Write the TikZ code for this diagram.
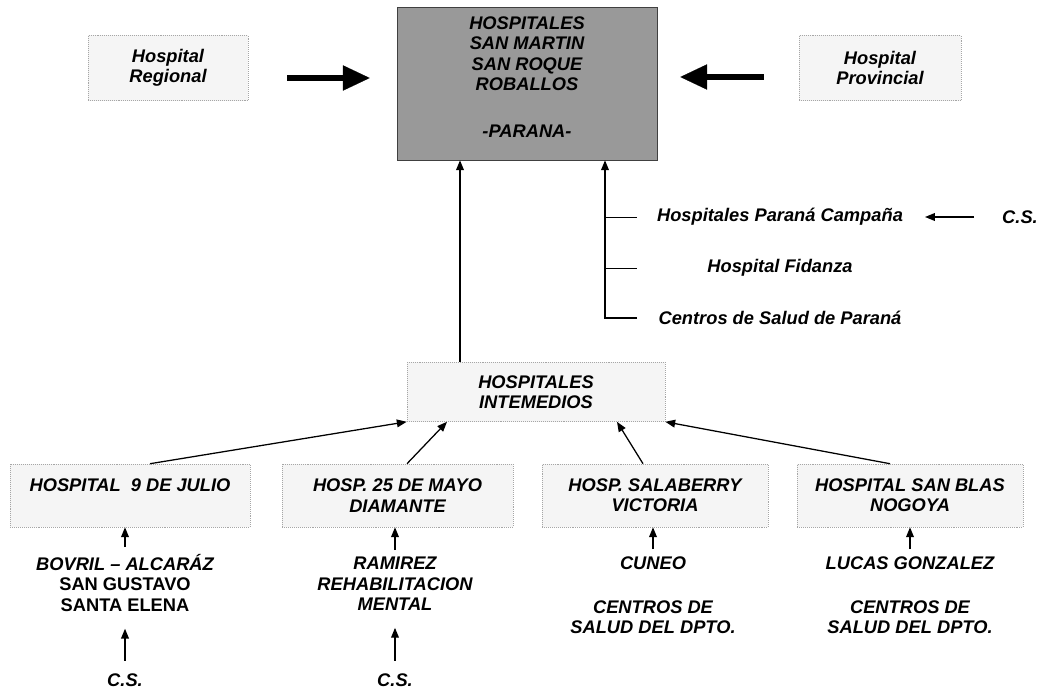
\documentclass[tikz,border=0pt]{standalone}
\usepackage{fontspec}
\setmainfont{Liberation Sans}
\usetikzlibrary{arrows.meta}
\tikzset{
  lbl/.style={font=\fontsize{13}{14.5}\selectfont\bfseries\itshape, align=center, inner sep=2pt},
  mainbox/.style={draw=black!75, fill=black!40, minimum width=6.5cm, minimum height=3.825cm},
  litebox/.style={lbl, draw=black!35, densely dotted, fill=black!4, minimum height=1.575cm},
  arr/.style={line width=0.9pt, -{Triangle[length=7pt,width=5.5pt]}},
  bigarrow/.style={line width=3.6pt, -{Triangle[length=19pt,width=18pt,line width=0.1pt]}}
}
\begin{document}
\begin{tikzpicture}[x=0.025cm, y=-0.025cm]
\useasboundingbox (0,0) rectangle (1043,695);
% top row
\node[mainbox] (main) at (527,83.5) {};
\node[lbl] (maintxt) at (527,77) {HOSPITALES\\SAN MARTIN\\SAN ROQUE\\ROBALLOS\\[19pt]-PARANA-};
\node[litebox, minimum width=4cm, minimum height=1.625cm] (reg) at (168,68) {Hospital\\Regional};
\node[litebox, minimum width=4.05cm, minimum height=1.625cm] (prov) at (880,68) {Hospital\\Provincial};
\draw[bigarrow, shorten <=0.975cm, shorten >=0.675cm] (reg.east |- 0,78) -- (main.west |- 0,78);
\draw[bigarrow, shorten <=0.875cm, shorten >=0.575cm] (prov.west |- 0,77) -- (main.east |- 0,77);

% Parana branch
\node[lbl] (camp) at (780,217) {Hospitales Paraná Campaña};
\node[lbl] (fid) at (780,268) {Hospital Fidanza};
\node[lbl] (cen) at (780,318) {Centros de Salud de Paraná};
\node[lbl] (cs0) at (1020,217) {C.S.};
\draw[arr] (637,0 |- cen) -| (main.south -| 605,0);
\draw (605,0 |- camp) -- (637,0 |- camp);
\draw (605,0 |- fid) -- (637,0 |- fid);
\draw[arr, shorten <=0.625cm, shorten >=0.475cm] (cs0.west) -- (camp.east);

% intermediate level
\node[litebox, minimum width=6.45cm, minimum height=1.475cm] (inter) at (536,392) {HOSPITALES\\INTEMEDIOS};
\draw[arr] (inter.north -| 460,0) -- (main.south -| 460,0);

\node[litebox, minimum width=6cm] (b1) at (130,495.5) {HOSPITAL\ \ 9 DE JULIO\\\mbox{}};
\node[litebox, minimum width=5.775cm] (b2) at (397.5,495.5) {HOSP. 25 DE MAYO\\DIAMANTE};
\node[litebox, minimum width=5.65cm] (b3) at (655,495.5) {HOSP. SALABERRY\\VICTORIA};
\node[litebox, minimum width=5.65cm] (b4) at (910,495.5) {HOSPITAL SAN BLAS\\NOGOYA};
\draw[arr] (b1.north -| 150,0) -- (inter.south west);
\draw[arr] (b2.north -| 407,0) -- (inter.south -| 447,0);
\draw[arr] (b3.north -| 643,0) -- (inter.south -| 617,0);
\draw[arr] (b4.north -| 890,0) -- (inter.south east);

% lower texts
\node[lbl] (s1) at (125,583) {BOVRIL – ALCARÁZ\\\upshape SAN GUSTAVO\\\upshape SANTA ELENA};
\node[lbl] (s2) at (395,584) {RAMIREZ\\REHABILITACION\\MENTAL};
\node[lbl] (s3) at (653,563) {CUNEO};
\node[lbl] (d3) at (653,617) {CENTROS DE\\SALUD DEL DPTO.};
\node[lbl] (s4) at (910,563) {LUCAS GONZALEZ};
\node[lbl] (d4) at (910,617) {CENTROS DE\\SALUD DEL DPTO.};
\node[lbl] (cs1) at (125,680) {C.S.};
\node[lbl] (cs2) at (395,680) {C.S.};
\draw[arr, shorten <=3pt] (s1.north) -- (b1.south -| s1.north);
\draw[arr, shorten <=3pt] (s2.north) -- (b2.south -| s2.north);
\draw[arr, shorten <=3pt] (s3.north) -- (b3.south -| s3.north);
\draw[arr, shorten <=3pt] (s4.north) -- (b4.south -| s4.north);
\draw[arr, shorten <=7pt, shorten >=10pt] (cs1.north) -- (s1.south);
\draw[arr, shorten <=7pt, shorten >=10pt] (cs2.north) -- (s2.south);
\end{tikzpicture}
\end{document}
